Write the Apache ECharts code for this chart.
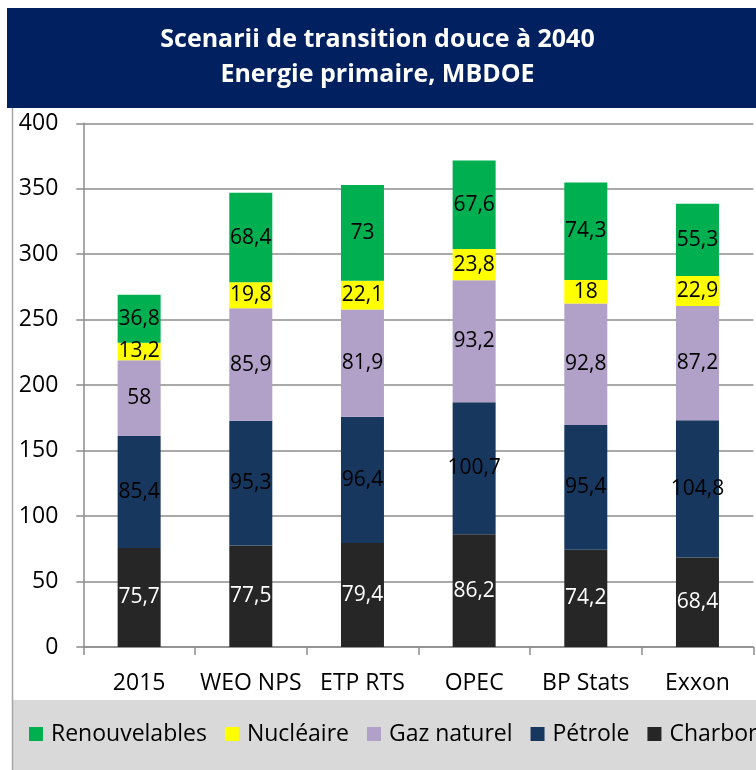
<!DOCTYPE html>
<html>
<head>
<meta charset="utf-8">
<style>
html,body{margin:0;padding:0;overflow:hidden;background:#fff;}
#c{width:790px;height:770px;}
</style>
<script src="https://cdn.jsdelivr.net/npm/echarts@6/dist/echarts.min.js"></script>
</head>
<body>
<div id="c"></div>
<script>
const categories = ['2015', 'WEO NPS', 'ETP RTS', 'OPEC', 'BP Stats', 'Exxon'];
const charbon = [75.7, 77.5, 79.4, 86.2, 74.2, 68.4];
const petrole = [85.4, 95.3, 96.4, 100.7, 95.4, 104.8];
const gaz = [58, 85.9, 81.9, 93.2, 92.8, 87.2];
const nucleaire = [13.2, 19.8, 22.1, 23.8, 18, 22.9];
const renouvelables = [36.8, 68.4, 73, 67.6, 74.3, 55.3];
const legendOrder = ['Renouvelables', 'Nucléaire', 'Gaz naturel', 'Pétrole', 'Charbon'];

const FONT = 'Open Sans';
const chart = echarts.init(document.getElementById('c'), null, {renderer: 'canvas'});

function mk(name, data, color, labelColor) {
  return {
    name: name,
    type: 'bar',
    stack: 'total',
    data: data,
    barWidth: 43,
    itemStyle: {color: color},
    label: {
      show: true,
      position: 'inside',
      color: labelColor,
      fontFamily: FONT,
      fontSize: 21,
      formatter: p => String(p.value).replace('.', ',')
    },
    emphasis: {disabled: true}
  };
}

chart.setOption({
  animation: false,
  textStyle: {fontFamily: FONT},
  graphic: [
    {type: 'rect', shape: {x: 7, y: 8, width: 800, height: 100}, style: {fill: '#002060'}, z: -1},
    {type: 'rect', shape: {x: 12, y: 700, width: 800, height: 80}, style: {fill: '#d9d9d9'}, z: -1},
    {type: 'line', shape: {x1: 12.5, y1: 108, x2: 12.5, y2: 770}, style: {stroke: '#a6a6a6', lineWidth: 1.5}, z: 5},
    {type: 'text', x: 377.5, y: 40, style: {text: 'Scenarii de transition douce à 2040', fill: '#fff', font: 'bold 25px "Open Sans"', textAlign: 'center', textVerticalAlign: 'middle'}},
    {type: 'text', x: 377.5, y: 75, style: {text: 'Energie primaire, MBDOE', fill: '#fff', font: 'bold 25px "Open Sans"', textAlign: 'center', textVerticalAlign: 'middle'}}
  ],
  legend: {
    data: legendOrder,
    left: 29,
    top: 721,
    padding: 0,
    itemWidth: 14,
    itemHeight: 14,
    itemGap: 18,
    icon: 'rect',
    textStyle: {fontFamily: FONT, fontSize: 23, color: '#000', lineHeight: 26, padding: [0, 0, 0, 3]},
    selectedMode: false
  },
  grid: {left: 83.3, top: 123.3, right: 36.7, bottom: 123, containLabel: false},
  xAxis: {
    type: 'category',
    data: categories,
    axisLine: {lineStyle: {color: '#8c8c8c', width: 1.5}},
    axisTick: {show: true, length: 8, lineStyle: {color: '#8c8c8c', width: 1.5}},
    axisLabel: {color: '#000', fontFamily: FONT, fontSize: 23, margin: 25, interval: 0}
  },
  yAxis: {
    type: 'value',
    min: 0, max: 400, interval: 50,
    axisLine: {show: true, lineStyle: {color: '#8c8c8c', width: 1.5}},
    axisTick: {show: true, length: 7, lineStyle: {color: '#8c8c8c', width: 1.5}},
    axisLabel: {color: '#000', fontFamily: FONT, fontSize: 23, margin: 25},
    splitLine: {lineStyle: {color: '#8c8c8c', width: 1.5}}
  },
  series: [
    mk('Charbon', charbon, '#262626', '#ffffff'),
    mk('Pétrole', petrole, '#17375e', '#000000'),
    mk('Gaz naturel', gaz, '#b1a0c7', '#000000'),
    mk('Nucléaire', nucleaire, '#ffff00', '#000000'),
    mk('Renouvelables', renouvelables, '#00b050', '#000000')
  ]
});
</script>
</body>
</html>
